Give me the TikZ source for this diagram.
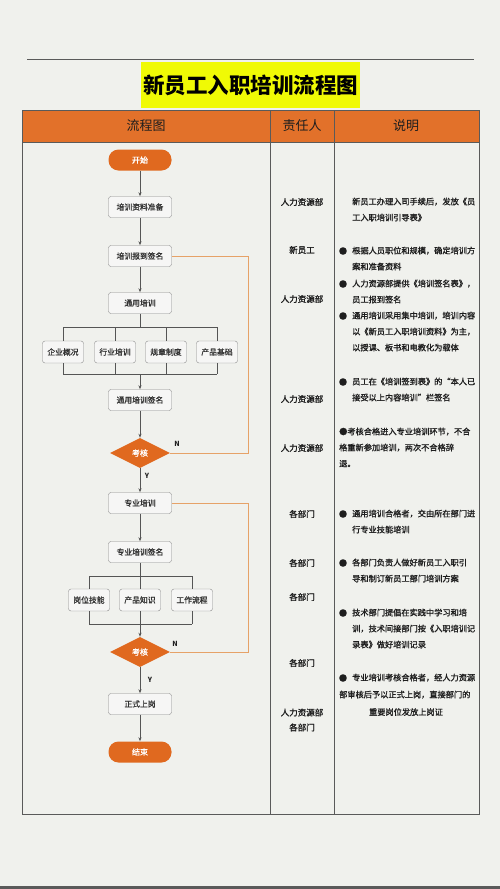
\documentclass[tikz,border=0pt]{standalone}
\usepackage{fontspec}
\setmainfont{Noto Sans CJK SC}
\newfontfamily\heavy[FakeBold=1.3]{Noto Sans CJK SC}
\usetikzlibrary{shapes.geometric,arrows.meta}
\definecolor{bgcol}{HTML}{F0F1ED}
\definecolor{flowor}{HTML}{E0691F}
\definecolor{heador}{HTML}{E2712A}
\definecolor{titley}{HTML}{F0FA05}
\definecolor{loopor}{HTML}{E6A268}
\definecolor{boxfill}{HTML}{F6F6F5}
\definecolor{boxline}{HTML}{8A8A8A}
\definecolor{arrowgray}{HTML}{555555}
\definecolor{tableline}{HTML}{5A5A5A}
\definecolor{txtgray}{HTML}{333333}
\definecolor{txtdark}{HTML}{1E1E1E}
\begin{document}
\begin{tikzpicture}[x=1pt,y=-1pt,
box/.style={draw=boxline,fill=boxfill,rounded corners=2.5pt,minimum width=63pt,minimum height=21pt,inner sep=0pt,font=\heavy\fontsize{7.8}{9}\selectfont,text=txtgray},
sbox/.style={box,minimum width=41pt,minimum height=22pt},
term/.style={fill=flowor,rounded corners=10pt,minimum width=63pt,minimum height=21pt,inner sep=0pt,text=white,font=\heavy\fontsize{8}{9}\selectfont},
check/.style={diamond,fill=flowor,minimum width=60pt,minimum height=30pt,inner sep=0pt,text=white,font=\heavy\fontsize{8}{9}\selectfont},
flow/.style={draw=arrowgray,-{Stealth[length=4pt,width=3pt]}},
link/.style={draw=arrowgray},
back/.style={draw=loopor},
yn/.style={font=\fontsize{7}{8}\selectfont\bfseries,text=txtdark,inner sep=0pt},
who/.style={font=\heavy\fontsize{8.5}{15}\selectfont,text=txtdark,inner sep=0pt,align=center},
note/.style={anchor=north west,align=left,inner sep=0pt,font=\heavy\fontsize{8.2}{16}\selectfont,text=txtdark},
dot/.style={inner sep=0pt,font=\heavy\fontsize{8.2}{9}\selectfont,text=txtdark}]
\useasboundingbox (0,0) rectangle (500,889);
\fill[bgcol] (0,0) rectangle (500,889);
\fill[tableline] (0,886) rectangle (500,889);
\draw[line width=1pt,draw=tableline] (27,59) -- (474,59);
\node[fill=titley,minimum width=219pt,minimum height=46pt,inner sep=0pt,font=\fontsize{21.5}{24}\selectfont\bfseries] (title) at (250.5,85) {新员工入职培训流程图};
% table
\fill[heador] (22,110) rectangle (479,142);
\draw[tableline,line width=0.9pt] (22,110) rectangle (479,814);
\draw[tableline,line width=0.9pt] (22,142) -- (479,142);
\draw[tableline,line width=1pt] (270,110) -- (270,814);
\draw[tableline,line width=1pt] (334,110) -- (334,814);
\begin{scope}[every node/.style={font=\fontsize{13}{15}\selectfont,text=txtdark}]
\node (h1) at (146,126) {流程图};
\node (h2) at (302,126) {责任人};
\node (h3) at (406,126) {说明};
\end{scope}
% flow chart
\begin{scope}
\node[term] (start) at (140,160) {开始};
\node[box] (prep) at (140,207) {培训资料准备};
\node[box] (sign) at (140,256) {培训报到签名};
\node[box] (gen) at (140,303) {通用培训};
\node[sbox] (g1) at (63,352) {企业概况};
\node[sbox] (g2) at (115,352) {行业培训};
\node[sbox] (g3) at (166,352) {规章制度};
\node[sbox] (g4) at (217,352) {产品基础};
\node[box] (gsign) at (140,400) {通用培训签名};
\node[check] (exam1) at (140,453) {考核};
\node[box] (spec) at (140,503) {专业培训};
\node[box] (ssign) at (140,552) {专业培训签名};
\node[sbox] (s1) at (89,600) {岗位技能};
\node[sbox] (s2) at (140,600) {产品知识};
\node[sbox] (s3) at (192,600) {工作流程};
\node[check] (exam2) at (140,652) {考核};
\node[box] (post) at (140,704) {正式上岗};
\node[term] (finish) at (140,752) {结束};
\coordinate (gsplit) at (140,327);
\coordinate (gjoin) at (140,374);
\coordinate (ssplit) at (140,576);
\coordinate (sjoin) at (140,624);
\coordinate (nback) at (248,0);
\end{scope}
\begin{scope}[line width=0.7pt]
\draw[flow] (start) -- (prep);
\draw[flow] (prep) -- (sign);
\draw[flow] (sign) -- (gen);
\draw[link] (gen) -- (gsplit);
\draw[link] (g1.north |- gsplit) -- (g4.north |- gsplit);
\foreach \g in {g1,g2,g3,g4}{
\draw[link] (\g.north |- gsplit) -- (\g.north);
\draw[link] (\g.south) -- (\g.south |- gjoin);
}
\draw[link] (g1.south |- gjoin) -- (g4.south |- gjoin);
\draw[flow] (gjoin) -- (gsign);
\draw[flow] (gsign) -- (exam1);
\draw[flow] (exam1) -- (spec);
\draw[back] (exam1.east) -- (exam1.east -| nback) |- (sign.east);
\draw[flow] (spec) -- (ssign);
\draw[link] (ssign) -- (ssplit);
\draw[link] (s1.north |- ssplit) -- (s3.north |- ssplit);
\foreach \s in {s1,s2,s3}{
\draw[link] (\s.north |- ssplit) -- (\s.north);
\draw[link] (\s.south) -- (\s.south |- sjoin);
}
\draw[link] (s1.south |- sjoin) -- (s3.south |- sjoin);
\draw[flow] (sjoin) -- (exam2);
\draw[flow] (exam2) -- (post);
\draw[flow] (post) -- (finish);
\draw[back] (exam2.east) -- (exam2.east -| nback) |- (spec.east);
\end{scope}
\node[yn] (n1) at (177,444) {N};
\node[yn] (y1) at (147,476) {Y};
\node[yn] (n2) at (175,644) {N};
\node[yn] (y2) at (150,680) {Y};
% responsible
\node[who] (r1) at (302,202) {人力资源部};
\node[who] (r2) at (302,250) {新员工};
\node[who] (r3) at (302,299) {人力资源部};
\node[who] (r4) at (302,399) {人力资源部};
\node[who] (r5) at (302,448) {人力资源部};
\node[who] (r6) at (302,514) {各部门};
\node[who] (r7) at (302,563) {各部门};
\node[who] (r8) at (302,597) {各部门};
\node[who] (r9) at (302,663) {各部门};
\node[who] (r10) at (302,720) {人力资源部\\各部门};
% notes
\node[note] (d1) at (352,197.5) {新员工办理入司手续后，发放《员\\工入职培训引导表》};
\node[dot] (b2) at (343,251) {●};
\node[note] (d2) at (352,246.5) {根据人员职位和规模，确定培训方\\案和准备资料};
\node[dot] (b3) at (343,284) {●};
\node[note] (d3) at (352,279.5) {人力资源部提供《培训签名表》，\\员工报到签名};
\node[dot] (b4) at (343,316) {●};
\node[note] (d4) at (352,311.5) {通用培训采用集中培训，培训内容\\以《新员工入职培训资料》为主，\\以授课、板书和电教化为载体};
\node[dot] (b5) at (343,382) {●};
\node[note] (d5) at (352,377.5) {员工在《培训签到表》的“本人已\\接受以上内容培训”栏签名};
\node[note] (d6) at (339,427.5) {●考核合格进入专业培训环节，不合\\格重新参加培训，两次不合格辞\\退。};
\node[dot] (b7) at (343,514) {●};
\node[note] (d7) at (352,509.5) {通用培训合格者，交由所在部门进\\行专业技能培训};
\node[dot] (b8) at (343,563) {●};
\node[note] (d8) at (352,558.5) {各部门负责人做好新员工入职引\\导和制订新员工部门培训方案};
\node[dot] (b9) at (343,613) {●};
\node[note] (d9) at (352,608.5) {技术部门提倡在实践中学习和培\\训，技术间接部门按《入职培训记\\录表》做好培训记录};
\node[dot] (b10) at (343,678) {●};
\node[note] (d10) at (352,673.5) {专业培训考核合格者，经人力资源};
\node[note] (d11) at (339,690.5) {部审核后予以正式上岗，直接部门的};
\node[dot] (d12) at (406,712) {重要岗位发放上岗证};
\end{tikzpicture}
\end{document}
